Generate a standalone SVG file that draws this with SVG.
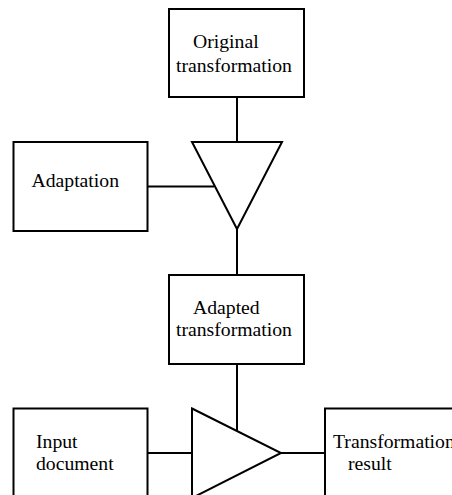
<svg xmlns="http://www.w3.org/2000/svg" width="452" height="495" viewBox="0 0 452 495">
<style>
.box{fill:#fff;stroke:#000;stroke-width:2}
.tri{fill:#fff;stroke:#000;stroke-width:2;stroke-linejoin:miter}
.ln{stroke:#000;stroke-width:2;fill:none}
text{font-family:"Liberation Serif","Times New Roman",serif;font-size:19.7px;fill:#000}
</style>
<rect width="452" height="495" fill="#fff"/>
<g id="connectors">
<line class="ln" x1="237" y1="97" x2="237" y2="142"/>
<line class="ln" x1="237" y1="229" x2="237" y2="275"/>
<line class="ln" x1="148" y1="186.5" x2="214" y2="186.5"/>
<line class="ln" x1="237" y1="364" x2="237" y2="431"/>
<line class="ln" x1="148" y1="453" x2="192" y2="453"/>
<line class="ln" x1="281" y1="453" x2="325" y2="453"/>
</g>
<g id="original">
<rect class="box" x="169" y="9" width="135" height="88"/>
<text x="193" y="48">Original</text>
<text x="176" y="72">transformation</text>
</g>
<g id="adaptation">
<rect class="box" x="13.5" y="142" width="134" height="89"/>
<text x="31.5" y="187">Adaptation</text>
</g>
<g id="combine1">
<polygon class="tri" points="192,142 282,142 237,229"/>
</g>
<g id="adapted">
<rect class="box" x="169" y="275" width="135" height="89"/>
<text x="193" y="314">Adapted</text>
<text x="176" y="336">transformation</text>
</g>
<g id="input">
<rect class="box" x="13.5" y="408.5" width="134" height="100"/>
<text x="36" y="448">Input</text>
<text x="36" y="470">document</text>
</g>
<g id="apply">
<polygon class="tri" points="192,408.5 281,453 192,498"/>
</g>
<g id="result">
<rect class="box" x="325" y="408.5" width="140" height="100"/>
<text x="333" y="448">Transformation</text>
<text x="348" y="470">result</text>
</g>
</svg>
